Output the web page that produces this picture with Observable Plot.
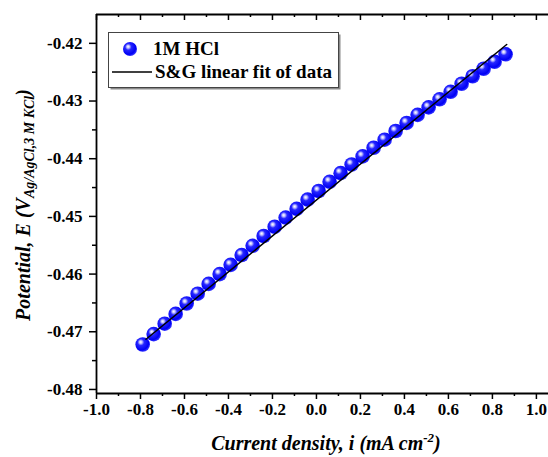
<!DOCTYPE html>
<html><head><meta charset="utf-8">
<script src="https://cdn.jsdelivr.net/npm/d3@7"></script>
<script src="https://cdn.jsdelivr.net/npm/@observablehq/plot@0.6"></script>
<style>body{margin:0;background:#fff} svg{display:block}</style>
</head><body><div id="chart"></div>
<script>
// Data
const currentDensity = [-0.79,-0.74,-0.69,-0.64,-0.59,-0.54,-0.49,-0.44,-0.39,-0.34,-0.29,-0.24,-0.19,-0.14,-0.09,-0.04,0.01,0.06,0.11,0.16,0.21,0.26,0.31,0.36,0.41,0.46,0.51,0.56,0.61,0.66,0.71,0.76,0.81,0.86];
const potential = [-0.4722,-0.4704,-0.4686,-0.4669,-0.4651,-0.4634,-0.4617,-0.4600,-0.4584,-0.4567,-0.4551,-0.4534,-0.4518,-0.4502,-0.4487,-0.4471,-0.4456,-0.4440,-0.4425,-0.4410,-0.4396,-0.4381,-0.4367,-0.4352,-0.4338,-0.4324,-0.4311,-0.4297,-0.4284,-0.4270,-0.4257,-0.4244,-0.4232,-0.4219];
const fitX = [-0.775, 0.865];
const fitY = [-0.4713, -0.4202];
const xTicks = [-1.0,-0.8,-0.6,-0.4,-0.2,0.0,0.2,0.4,0.6,0.8,1.0];
const xMinor = [-0.9,-0.7,-0.5,-0.3,-0.1,0.1,0.3,0.5,0.7,0.9];
const yTicks = [-0.48,-0.47,-0.46,-0.45,-0.44,-0.43,-0.42];
const yMinor = [-0.475,-0.465,-0.455,-0.445,-0.435,-0.425];
const seriesNames = ["1M HCl", "S&G linear fit of data"];

const W = 548, H = 457;
const mL = 96, mR = 0, mT = 14, mB = 64;
const xDomain = [-1.0, 1.055];
const yDomain = [-0.4807, -0.4150];
const frameH = H - mT - mB;
const serif = "Liberation Serif";

const points = currentDensity.map((x, i) => ({x, y: potential[i]}));
const fit = fitX.map((x, i) => ({x, y: fitY[i]}));

const plot = Plot.plot({
  width: W, height: H,
  marginLeft: mL, marginRight: mR, marginTop: mT, marginBottom: mB,
  style: {fontFamily: serif, fontSize: "17px", fontWeight: "bold", color: "#000", background: "#fff", overflow: "visible"},
  x: {domain: xDomain},
  y: {domain: yDomain},
  marks: [
    Plot.dot(points, {x: "x", y: "y", r: 7.3, fill: "url(#sphereGrad)", stroke: "none"}),
    Plot.line(fit, {x: "x", y: "y", stroke: "#000", strokeWidth: 1.5}),
    // frame
    Plot.ruleX([xDomain[0]], {stroke: "#000", strokeWidth: 1.8}),
    Plot.ruleY([yDomain[0], yDomain[1]], {stroke: "#000", strokeWidth: 1.8}),
    // bottom axis
    Plot.axisX(xTicks, {anchor: "bottom", tickSize: 6, tickPadding: 3, strokeWidth: 1.5, tickFormat: d => d.toFixed(1), label: null, fontSize: 17, fontFamily: serif, fontWeight: "bold"}),
    Plot.axisX(xMinor, {anchor: "bottom", tickSize: 3, strokeWidth: 1.5, text: null, label: null}),
    // top inward ticks
    Plot.ruleX(xTicks, {x: d => d, insetBottom: frameH - 6, strokeWidth: 1.5}),
    Plot.ruleX(xMinor, {x: d => d, insetBottom: frameH - 3, strokeWidth: 1.5}),
    // left axis
    Plot.axisY(yTicks, {anchor: "left", tickSize: 7, tickPadding: 7, strokeWidth: 1.5, tickFormat: d => d.toFixed(2), label: null, fontSize: 17, fontFamily: serif, fontWeight: "bold"}),
    Plot.axisY(yMinor, {anchor: "left", tickSize: 4, strokeWidth: 1.5, text: null, label: null})
  ]
});

const svg = d3.select(plot);
svg.insert("defs", ":first-child").html(`
  <radialGradient id="sphereGrad" cx="0.4" cy="0.38" r="0.6" fx="0.36" fy="0.33">
    <stop offset="0" stop-color="#ffffff"/>
    <stop offset="0.16" stop-color="#c4c4ff"/>
    <stop offset="0.38" stop-color="#2626ff"/>
    <stop offset="0.85" stop-color="#0000f4"/>
    <stop offset="1" stop-color="#2a2aff"/>
  </radialGradient>`);

// x axis label
const xl = svg.append("text")
  .attr("x", 326).attr("y", 450)
  .attr("text-anchor", "middle")
  .style("font-family", serif).style("font-size", "20px")
  .style("font-weight", "bold").style("font-style", "italic").attr("fill", "#000");
xl.append("tspan").text("Current density, i (mA cm");
xl.append("tspan").style("font-size", "13px").attr("dy", -8).text("-2");
xl.append("tspan").attr("dy", 8).text(")");

// y axis label
const yl = svg.append("text")
  .attr("transform", "translate(30,205) rotate(-90)")
  .attr("text-anchor", "middle")
  .style("font-family", serif).style("font-size", "20px")
  .style("font-weight", "bold").style("font-style", "italic").attr("fill", "#000");
yl.append("tspan").text("Potential, E (V");
yl.append("tspan").style("font-size", "14px").attr("dy", 4).text("Ag/AgCl,3 M KCl");
yl.append("tspan").attr("dy", -4).text(")");

// legend
const lg = svg.append("g").attr("text-anchor", "start")
  .style("font-family", serif).style("font-weight", "bold").style("font-size", "19px").attr("fill", "#000");
lg.append("rect").attr("x", 110.5).attr("y", 34.5).attr("width", 230).attr("height", 55).attr("fill", "#8a8a8a");
lg.append("rect").attr("x", 108.5).attr("y", 32.5).attr("width", 230).attr("height", 55).attr("fill", "#fff").attr("stroke", "#444").attr("stroke-width", 1);
lg.append("circle").attr("cx", 130).attr("cy", 49).attr("r", 7).attr("fill", "url(#sphereGrad)");
lg.append("text").attr("x", 153).attr("y", 55).text(seriesNames[0]);
lg.append("line").attr("x1", 112).attr("x2", 152).attr("y1", 72).attr("y2", 72).attr("stroke", "#000").attr("stroke-width", 1.5);
lg.append("text").attr("x", 155).attr("y", 78).text(seriesNames[1]);

document.getElementById("chart").appendChild(plot);
</script>
</body></html>
